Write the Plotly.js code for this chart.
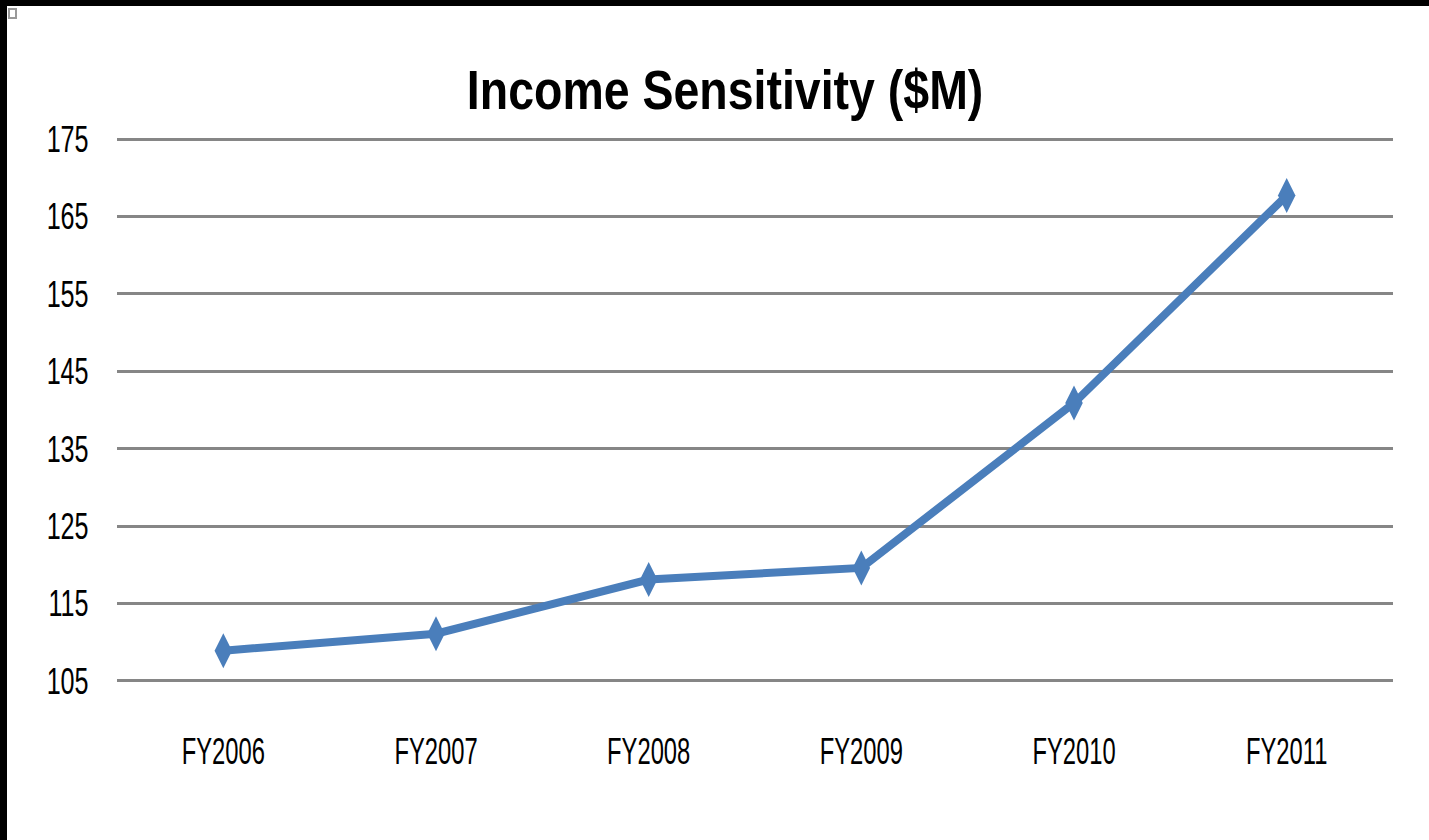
<!DOCTYPE html>
<html>
<head>
<meta charset="utf-8">
<script src="https://cdn.plot.ly/plotly-3.0.1.min.js"></script>
<style>
html,body{margin:0;padding:0;background:#000;width:1429px;height:840px;overflow:hidden;}
#wrap{position:absolute;left:7px;top:6px;width:1422px;height:834px;background:#fff;}
#chart{width:1422px;height:834px;}
#sq{position:absolute;left:1px;top:2px;width:5px;height:7px;border:2px solid #999;background:#fff;}
</style>
</head>
<body>
<div id="wrap"><div id="chart"></div><div id="sq"></div></div>
<script>
const categories = ["FY2006","FY2007","FY2008","FY2009","FY2010","FY2011"];
const income = [108.9, 111.1, 118.1, 119.6, 140.9, 167.7];
const yTicks = [105,115,125,135,145,155,165,175];

const fontFam = '"Liberation Sans", Arial, sans-serif';

function squeeze(sel, s) {
  document.querySelectorAll(sel).forEach(t => {
    const x = parseFloat(t.getAttribute('x')) || 0;
    const old = t.getAttribute('transform') || '';
    t.setAttribute('transform', old + ' translate(' + x + ',0) scale(' + s + ',1) translate(' + (-x) + ',0)');
  });
}

Plotly.newPlot('chart', [{
  x: categories,
  y: income,
  type: 'scatter',
  mode: 'lines+markers',
  line: {color: '#4a7ebb', width: 8},
  marker: {symbol: 'diamond-tall', size: 25, color: '#4a7ebb'},
  hoverinfo: 'skip'
}], {
  width: 1422, height: 834,
  margin: {l: 110, r: 36, t: 130, b: 156},
  paper_bgcolor: '#fff', plot_bgcolor: '#fff',
  showlegend: false,
  title: {
    text: '<b>Income Sensitivity ($M)</b>',
    font: {family: fontFam, size: 56, color: '#000'},
    x: 0.505, xanchor: 'center', xref: 'container',
    y: 0.9, yanchor: 'middle'
  },
  xaxis: {
    type: 'category',
    range: [-0.5, 5.5],
    showgrid: false, zeroline: false, showline: false,
    ticks: 'outside', ticklen: 36, tickcolor: 'rgba(0,0,0,0)',
    tickfont: {family: fontFam, size: 36, color: '#000'}
  },
  yaxis: {
    range: [104.6, 175.4],
    tickvals: yTicks,
    ticktext: yTicks.map(String),
    showgrid: true, gridcolor: '#868686', gridwidth: 3,
    zeroline: false, showline: false,
    ticks: 'outside', ticklen: 20, tickcolor: 'rgba(0,0,0,0)',
    tickfont: {family: fontFam, size: 37, color: '#000'}
  }
}, {displayModeBar: false, staticPlot: true}).then(() => {
  squeeze('.xtick text', 0.66);
  squeeze('.ytick text', 0.68);
  squeeze('.gtitle', 0.83);
});
</script>
</body>
</html>
